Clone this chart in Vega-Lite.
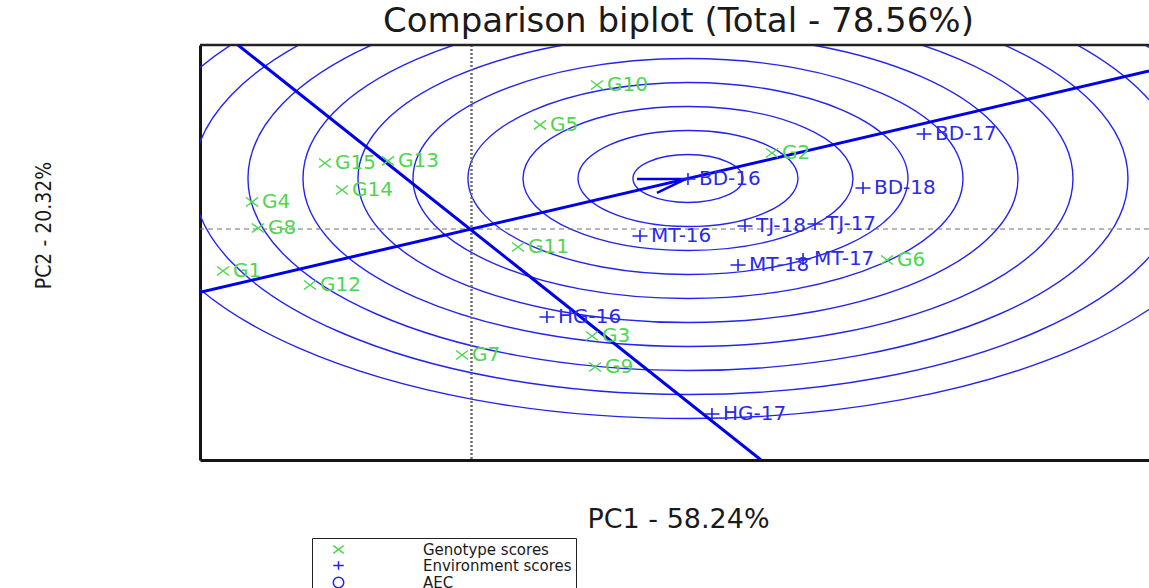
{
  "$schema": "https://vega.github.io/schema/vega-lite/v6.json",
  "width": 949,
  "height": 415,
  "autosize": {"type": "none"},
  "padding": {"left": 200, "top": 45, "right": 0, "bottom": 128},
  "background": "white",
  "title": {
    "text": "Comparison biplot (Total - 78.56%)",
    "font": "DejaVu Sans",
    "fontSize": 34,
    "fontWeight": "normal",
    "color": "#1a1a1a",
    "anchor": "middle",
    "offset": 5,
    "dx": 4
  },
  "config": {
    "view": {"stroke": null},
    "legend": {
      "strokeColor": "#222222",
      "fillColor": "white",
      "padding": 4,
      "labelFont": "DejaVu Sans",
      "labelFontSize": 15,
      "labelColor": "#1a1a1a",
      "labelLimit": 500,
      "symbolSize": 110,
      "symbolStrokeWidth": 1.5,
      "symbolOffset": 15,
      "labelOffset": 77,
      "rowPadding": 0
    }
  },
  "datasets": {
    "rings": [
      {"pc1": 1.968, "pc2": 1.052, "radius": 0.5},
      {"pc1": 1.968, "pc2": 1.052, "radius": 1.0},
      {"pc1": 1.968, "pc2": 1.052, "radius": 1.5},
      {"pc1": 1.968, "pc2": 1.052, "radius": 2.0},
      {"pc1": 1.968, "pc2": 1.052, "radius": 2.5},
      {"pc1": 1.968, "pc2": 1.052, "radius": 3.0},
      {"pc1": 1.968, "pc2": 1.052, "radius": 3.5},
      {"pc1": 1.968, "pc2": 1.052, "radius": 4.0},
      {"pc1": 1.968, "pc2": 1.052, "radius": 4.5},
      {"pc1": 1.968, "pc2": 1.052, "radius": 5.0}
    ],
    "aec": [
      {"line": "abscissa", "pc1": -2.468, "pc2": -1.319},
      {"line": "abscissa", "pc1": 6.159, "pc2": 3.293},
      {"line": "ordinate", "pc1": -2.123, "pc2": 3.833},
      {"line": "ordinate", "pc1": 2.632, "pc2": -4.8125}
    ],
    "arrow": [
      {"step": 1, "pc1": 1.505, "pc2": 1.042},
      {"step": 2, "pc1": 1.95, "pc2": 1.042},
      {"step": 3, "pc1": 1.686, "pc2": 0.75}
    ],
    "genotypes": [
      {"name": "G1", "type": "Genotype scores", "pc1": -2.259, "pc2": -0.875},
      {"name": "G2", "type": "Genotype scores", "pc1": 2.732, "pc2": 1.583},
      {"name": "G3", "type": "Genotype scores", "pc1": 1.095, "pc2": -2.229},
      {"name": "G4", "type": "Genotype scores", "pc1": -1.995, "pc2": 0.5625},
      {"name": "G5", "type": "Genotype scores", "pc1": 0.623, "pc2": 2.167},
      {"name": "G6", "type": "Genotype scores", "pc1": 3.777, "pc2": -0.646},
      {"name": "G7", "type": "Genotype scores", "pc1": -0.086, "pc2": -2.625},
      {"name": "G8", "type": "Genotype scores", "pc1": -1.941, "pc2": 0.021},
      {"name": "G9", "type": "Genotype scores", "pc1": 1.123, "pc2": -2.875},
      {"name": "G10", "type": "Genotype scores", "pc1": 1.141, "pc2": 3.0},
      {"name": "G11", "type": "Genotype scores", "pc1": 0.423, "pc2": -0.375},
      {"name": "G12", "type": "Genotype scores", "pc1": -1.468, "pc2": -1.167},
      {"name": "G15", "type": "Genotype scores", "pc1": -1.332, "pc2": 1.375},
      {"name": "G13", "type": "Genotype scores", "pc1": -0.759, "pc2": 1.417},
      {"name": "G14", "type": "Genotype scores", "pc1": -1.177, "pc2": 0.8125}
    ],
    "environments": [
      {"name": "BD-16", "type": "Environment scores", "pc1": 1.968, "pc2": 1.042},
      {"name": "BD-17", "type": "Environment scores", "pc1": 4.114, "pc2": 1.979},
      {"name": "BD-18", "type": "Environment scores", "pc1": 3.559, "pc2": 0.854},
      {"name": "HG-16", "type": "Environment scores", "pc1": 0.686, "pc2": -1.833},
      {"name": "HG-17", "type": "Environment scores", "pc1": 2.186, "pc2": -3.854},
      {"name": "MT-16", "type": "Environment scores", "pc1": 1.532, "pc2": -0.146},
      {"name": "MT-18", "type": "Environment scores", "pc1": 2.423, "pc2": -0.75},
      {"name": "MT-17", "type": "Environment scores", "pc1": 3.014, "pc2": -0.625},
      {"name": "TJ-18", "type": "Environment scores", "pc1": 2.486, "pc2": 0.0625},
      {"name": "TJ-17", "type": "Environment scores", "pc1": 3.123, "pc2": 0.104}
    ]
  },
  "layer": [
    {
      "data": {"name": "rings"},
      "mark": {
        "type": "point",
        "shape": "M1,0C1,0.241 0.5523,0.4364 0,0.4364C-0.5523,0.4364 -1,0.241 -1,0C-1,-0.241 -0.5523,-0.4364 0,-0.4364C0.5523,-0.4364 1,-0.241 1,0Z",
        "filled": false,
        "color": "#2424f2",
        "strokeWidth": 1.4,
        "opacity": 1,
        "clip": true
      },
      "encoding": {
        "x": {
          "field": "pc1", "type": "quantitative",
          "scale": {"domain": [-2.468, 6.159], "nice": false, "zero": false},
          "axis": {
            "title": "PC1 - 58.24%",
            "labels": false, "ticks": false, "grid": false,
            "domain": true, "domainColor": "#151515", "domainWidth": 3,
            "titleFont": "DejaVu Sans", "titleFontSize": 27, "titleFontWeight": "normal",
            "titleColor": "#1a1a1a", "titleY": 67, "titleX": 478, "titleAlign": "center",
            "titleBaseline": "alphabetic"
          }
        },
        "y": {
          "field": "pc2", "type": "quantitative",
          "scale": {"domain": [-4.8125, 3.833], "nice": false, "zero": false},
          "axis": {
            "title": "PC2 - 20.32%",
            "labels": false, "ticks": false, "grid": false,
            "domain": true, "domainColor": "#151515", "domainWidth": 3,
            "titleFont": "Liberation Sans Narrow, DejaVu Sans Condensed, Liberation Sans",
            "titleFontSize": 21, "titleFontWeight": "normal", "titleColor": "#1a1a1a",
            "titleAngle": 270, "titleX": -150, "titleY": 180, "titleAlign": "center",
            "titleBaseline": "alphabetic"
          }
        },
        "size": {
          "field": "radius", "type": "quantitative",
          "scale": {"type": "pow", "exponent": 2, "domain": [0, 5], "range": [0, 1210000]},
          "legend": null
        }
      }
    },
    {
      "data": {"values": [{}]},
      "mark": {"type": "rule", "color": "#707070", "strokeWidth": 2.5, "strokeDash": [2, 2]},
      "encoding": {"x": {"datum": 0, "type": "quantitative"}}
    },
    {
      "data": {"values": [{}]},
      "mark": {"type": "rule", "color": "#707070", "strokeWidth": 1.2, "strokeDash": [5, 4]},
      "encoding": {"y": {"datum": 0, "type": "quantitative"}}
    },
    {
      "data": {"values": [{}]},
      "mark": {"type": "rule", "color": "#222222", "strokeWidth": 2.5},
      "encoding": {"y": {"datum": 3.833, "type": "quantitative"}}
    },
    {
      "data": {"name": "aec"},
      "mark": {"type": "line", "color": "#0000e8", "strokeWidth": 3, "clip": true},
      "encoding": {
        "x": {"field": "pc1", "type": "quantitative"},
        "y": {"field": "pc2", "type": "quantitative"},
        "detail": {"field": "line"}
      }
    },
    {
      "data": {"name": "arrow"},
      "mark": {"type": "line", "color": "#0000e8", "strokeWidth": 2.5},
      "encoding": {
        "x": {"field": "pc1", "type": "quantitative"},
        "y": {"field": "pc2", "type": "quantitative"},
        "order": {"field": "step"}
      }
    },
    {
      "data": {"name": "genotypes"},
      "mark": {"type": "point", "filled": false, "strokeWidth": 1.5, "size": 144, "opacity": 1},
      "encoding": {
        "x": {"field": "pc1", "type": "quantitative"},
        "y": {"field": "pc2", "type": "quantitative"},
        "shape": {
          "field": "type", "type": "nominal",
          "scale": {"domain": ["Genotype scores", "Environment scores", "AEC"], "range": ["M-1,-0.75L1,0.75M-1,0.75L1,-0.75", "M-1,0L1,0M0,-0.8L0,0.8", "circle"]},
          "legend": {"title": null, "orient": "none", "legendX": 112, "legendY": 493, "direction": "vertical"}
        },
        "color": {
          "field": "type", "type": "nominal",
          "scale": {"domain": ["Genotype scores", "Environment scores", "AEC"], "range": ["#4fd64f", "#2222ee", "#2222ee"]},
          "legend": {"title": null, "orient": "none", "legendX": 112, "legendY": 493, "direction": "vertical"}
        }
      }
    },
    {
      "data": {"name": "environments"},
      "mark": {"type": "point", "filled": false, "strokeWidth": 1.6, "size": 225, "opacity": 1},
      "encoding": {
        "x": {"field": "pc1", "type": "quantitative"},
        "y": {"field": "pc2", "type": "quantitative"},
        "shape": {"field": "type", "type": "nominal", "legend": {"title": null, "orient": "none", "legendX": 112, "legendY": 493, "direction": "vertical"}},
        "color": {"field": "type", "type": "nominal", "legend": {"title": null, "orient": "none", "legendX": 112, "legendY": 493, "direction": "vertical"}}
      }
    },
    {
      "data": {"name": "genotypes"},
      "mark": {"type": "text", "align": "left", "baseline": "middle", "dx": 10, "font": "DejaVu Sans", "fontSize": 20, "color": "#4fd64f"},
      "encoding": {
        "x": {"field": "pc1", "type": "quantitative"},
        "y": {"field": "pc2", "type": "quantitative"},
        "text": {"field": "name"}
      }
    },
    {
      "data": {"name": "environments"},
      "mark": {"type": "text", "align": "left", "baseline": "middle", "dx": 11, "font": "DejaVu Sans", "fontSize": 20, "color": "#2a2aea"},
      "encoding": {
        "x": {"field": "pc1", "type": "quantitative"},
        "y": {"field": "pc2", "type": "quantitative"},
        "text": {"field": "name"}
      }
    }
  ]
}
